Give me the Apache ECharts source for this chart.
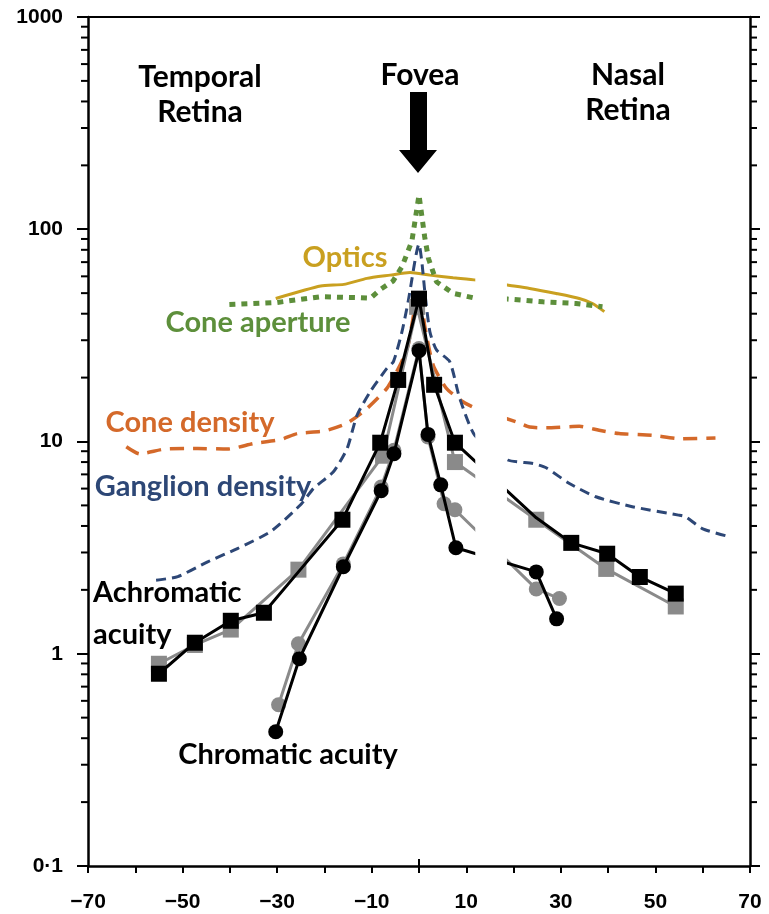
<!DOCTYPE html>
<html>
<head>
<meta charset="utf-8">
<script src="https://cdn.jsdelivr.net/npm/echarts@6/dist/echarts.min.js"></script>
<style>
  html, body { margin: 0; padding: 0; background: #ffffff; }
  #chart { width: 769px; height: 914px; }
</style>
</head>
<body>
<div id="chart"></div>
<script>
// Eccentricity in degrees (negative = temporal retina, positive = nasal retina)
const opticsEcc = [-30.3, -20.8, -15.9, -11.0, -6.1, -1.9, 2.3, 7.2, 12.1, 18.7, 23.4, 29.0, 33.9, 36.7, 39.2];
const opticsVal = [47.2, 54.0, 55.0, 58.7, 60.8, 62.6, 60.8, 59.1, 57.6, 54.6, 52.6, 49.8, 47.2, 44.7, 40.9];

const apertureEcc = [-40.1, -30.0, -20.8, -13.1, -10.3, -8.2, -5.5, -3.6, -1.5, 0, 1.2, 2.0, 3.7, 7.2, 11.4, 18.7, 26.2, 33.2, 38.8];
const apertureVal = [44.2, 45.2, 48.1, 47.6, 47.3, 52.0, 57.0, 66.6, 88.0, 145, 92.0, 72.8, 56.6, 49.9, 47.6, 46.9, 45.5, 44.7, 43.1];

const coneEcc = [-61.9, -59.1, -53.8, -46.8, -40.5, -34.9, -29.3, -25.7, -20.1, -15.2, -11.0, -6.8, -4.0, -2.3, 0, 1.3, 3.0, 5.8, 9.3, 12.1, 20.9, 23.4, 26.9, 33.9, 38.1, 42.3, 49.3, 55.6, 62.7];
const coneVal = [9.44, 8.74, 9.21, 9.27, 9.21, 9.79, 10.2, 10.9, 11.2, 12.2, 14.3, 17.8, 22.9, 28.5, 52, 34.1, 22.9, 17.8, 15.4, 14.3, 12.3, 11.7, 11.6, 11.8, 11.3, 10.9, 10.7, 10.3, 10.4];

const ganglionEcc = [-55.6, -51.0, -44.7, -38.4, -31.4, -25.1, -22.3, -18.1, -15.2, -13.1, -10.3, -6.8, -5.4, -3.6, -2.3, 0, 0.6, 1.3, 2.3, 3.7, 6.5, 8.6, 11.8, 18.8, 24.1, 26.9, 31.8, 37.4, 45.1, 54.9, 56.4, 59.9, 64.8];
const ganglionVal = [2.22, 2.31, 2.71, 3.13, 3.76, 5.02, 6.01, 7.20, 9.27, 13.3, 17.2, 22.1, 23.8, 32.9, 45.5, 85, 70.3, 49.0, 32.9, 27.0, 23.8, 16.0, 10.7, 8.18, 7.88, 7.52, 6.34, 5.49, 4.93, 4.50, 4.42, 3.89, 3.60];

// Achromatic acuity, two observers
const achroEccA = [-55.0, -47.4, -39.8, -32.8, -25.5, -16.2, -8.2, -4.4, 0, 3.2, 7.6, 24.8, 32.2, 39.8, 46.7, 54.3];
const achroValA = [0.805, 1.127, 1.43, 1.56, 2.43, 4.28, 9.87, 19.5, 47.1, 18.5, 9.87, 4.37, 3.33, 2.96, 2.30, 1.92];
const achroEccB = [-55.0, -47.4, -39.8, -25.5, -7.6, -0.4, 7.6, 24.8, 39.6, 54.3];
const achroValB = [0.897, 1.10, 1.30, 2.49, 8.57, 43.1, 8.0, 4.28, 2.51, 1.67];

// Chromatic acuity, two observers
const chromEccA = [-30.3, -25.3, -16.0, -8.0, -5.3, 0, 1.9, 4.6, 7.8, 24.8, 29.1];
const chromValA = [0.429, 0.947, 2.57, 5.86, 8.76, 26.8, 10.8, 6.25, 3.16, 2.43, 1.46];
const chromEccB = [-29.7, -25.5, -16.0, -8.0, -5.3, 0, 1.9, 5.3, 7.6, 24.8, 29.7];
const chromValB = [0.575, 1.115, 2.65, 6.1, 9.1, 27.4, 10.5, 5.09, 4.77, 2.02, 1.82];

// Blind-spot interval where all curves are interrupted
const blindSpot = [11.9, 18.6];

const xMin = -70, xMax = 70;
const yMin = 0.1, yMax = 1000;
const xTickLabels = [-70, -50, -30, -10, 10, 30, 50, 70];

// observer-1 achromatic points that sit beneath observer-2 markers
const achroCovered = [-25.5, 24.8];

const pairs = (xs, ys) => xs.map((x, i) => [x, ys[i]]);

// minor log ticks: 2..9 times each decade
const minorTicks = [];
for (let d = -1; d < 3; d++) {
  for (let k = 2; k <= 9; k++) minorTicks.push(+(k * Math.pow(10, d)).toPrecision(3));
}

const chart = echarts.init(document.getElementById('chart'));

const numFont = { fontFamily: 'Liberation Sans', fontWeight: 'bold', fontSize: 21, color: '#000' };
const labelFont = (size) => `bold ${size}px Lato`;

const curve = (name, xs, ys, color, width, dash, smooth) => ({
  name, type: 'line', data: pairs(xs, ys), showSymbol: false, symbol: 'none',
  smooth: smooth, z: 2,
  lineStyle: { color, width, type: dash, cap: 'butt' },
  silent: true
});

const acuity = (name, data, color, symbol, size, z) => ({
  name, type: 'line', data, symbol, symbolSize: size, z,
  showAllSymbol: true,
  lineStyle: { color, width: 3 },
  itemStyle: { color },
  silent: true
});

const achroAData = pairs(achroEccA, achroValA).map(p =>
  achroCovered.includes(p[0]) ? { value: p, symbol: 'none' } : p);

const text = (x, y, str, color, size, align) => ({
  type: 'text', z: 20,
  style: { x, y, text: str, font: labelFont(size), fill: color, align: align || 'center', verticalAlign: 'middle' }
});

const logAxis = (position, withLabels, tickLen) => ({
  type: 'log', logBase: 10, min: yMin, max: yMax, position,
  axisLine: { show: true, onZero: false, lineStyle: { color: '#000', width: 2.5 } },
  axisTick: { show: true, length: tickLen, lineStyle: { color: '#000', width: 2 } },
  axisLabel: withLabels
    ? { ...numFont, margin: 25, formatter: v => v < 1 ? '0\u00b71' : String(Math.round(v)) }
    : { show: false },
  splitLine: { show: false }
});

const annotations = [
  text(200, 77, 'Temporal', '#000', 30),
  text(200, 112, 'Retina', '#000', 30),
  text(420, 75, 'Fovea', '#000', 30),
  text(628, 75, 'Nasal', '#000', 30),
  text(628, 110, 'Retina', '#000', 30),
  { type: 'polygon', z: 20, shape: { points: [[410, 92], [427, 92], [427, 150], [437, 150], [418, 173], [399, 150], [410, 150]] }, style: { fill: '#000' } },
  text(345, 258, 'Optics', '#c9a020', 29),
  text(258, 323, 'Cone aperture', '#5d8f3b', 29),
  text(190, 423, 'Cone density', '#d4692a', 29),
  text(203, 487, 'Ganglion density', '#2d4776', 29),
  text(93, 593, 'Achromatic', '#000', 29, 'left'),
  text(93, 635, 'acuity', '#000', 29, 'left'),
  text(288, 755, 'Chromatic acuity', '#000', 29)
];

const option = {
  animation: false,
  backgroundColor: '#ffffff',
  grid: { left: 88, right: 19, top: 17, bottom: 48 },
  xAxis: [
    {
      type: 'value', min: xMin, max: xMax, interval: 10,
      axisLine: { show: true, onZero: false, lineStyle: { color: '#000', width: 2.5 } },
      axisTick: { show: true, length: 7, lineStyle: { color: '#000', width: 2 } },
      axisLabel: {
        ...numFont, margin: 26, interval: 0,
        formatter: v => xTickLabels.includes(v) ? String(v).replace('-', '\u2212') : ''
      },
      splitLine: { show: false }
    },
    {
      type: 'value', position: 'top', min: xMin, max: xMax,
      axisLine: { show: true, onZero: false, lineStyle: { color: '#000', width: 2 } },
      axisTick: { show: false }, axisLabel: { show: false }, splitLine: { show: false }
    }
  ],
  yAxis: [logAxis('left', true, 11), logAxis('right', false, 10)],
  series: [
    curve('Optics', opticsEcc, opticsVal, '#c9a020', 3, 'solid', 0.2),
    curve('Cone aperture', apertureEcc, apertureVal, '#5d8f3b', 5, [6, 6], 0),
    curve('Cone density', coneEcc, coneVal, '#d4692a', 3.5, [14, 9], 0.2),
    curve('Ganglion density', ganglionEcc, ganglionVal, '#2d4776', 3, [10, 6], 0.2),
    acuity('Achromatic acuity 2', pairs(achroEccB, achroValB), '#8a8a8a', 'rect', 16, 3),
    acuity('Achromatic acuity 1', achroAData, '#000000', 'rect', 16, 4),
    acuity('Chromatic acuity 2', pairs(chromEccB, chromValB), '#8a8a8a', 'circle', 15, 3),
    acuity('Chromatic acuity 1', pairs(chromEccA, chromValA), '#000000', 'circle', 15, 4),
    {
      // white band across the blind spot
      name: 'Blind spot', type: 'custom', z: 10, silent: true,
      data: [[blindSpot[0], blindSpot[1]]],
      renderItem: (params, api) => {
        const a = api.coord([api.value(0), 500]);
        const b = api.coord([api.value(1), 0.2]);
        return { type: 'rect', shape: { x: a[0], y: a[1], width: b[0] - a[0], height: b[1] - a[1] },
                 style: { fill: '#ffffff' } };
      }
    }
  ],
  graphic: annotations
};

chart.setOption(option);

// minor ticks on both log axes and the raised tick at the fovea, positioned through the axis scales
const xl = chart.convertToPixel({ xAxisIndex: 0 }, xMin);
const xr = chart.convertToPixel({ xAxisIndex: 0 }, xMax);
const x0 = chart.convertToPixel({ xAxisIndex: 0 }, 0);
const yBottom = chart.convertToPixel({ yAxisIndex: 0 }, yMin);
const tickStyle = { stroke: '#000', lineWidth: 2 };
const axisMarks = [
  { type: 'line', z: 20, silent: true, shape: { x1: x0, y1: yBottom - 7, x2: x0, y2: yBottom }, style: tickStyle }
];
minorTicks.forEach(v => {
  const y = chart.convertToPixel({ yAxisIndex: 0 }, v);
  axisMarks.push({ type: 'line', z: 20, silent: true, shape: { x1: xl - 7, y1: y, x2: xl, y2: y }, style: tickStyle });
  axisMarks.push({ type: 'line', z: 20, silent: true, shape: { x1: xr, y1: y, x2: xr + 7, y2: y }, style: tickStyle });
});
chart.setOption({ graphic: annotations.concat(axisMarks) });
</script>
</body>
</html>
